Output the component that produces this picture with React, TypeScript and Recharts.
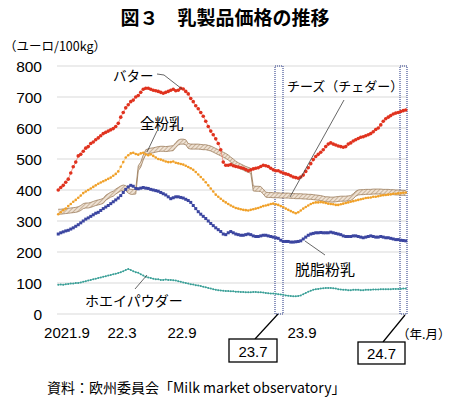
import { ComposedChart, Line, Area, XAxis, YAxis, CartesianGrid, ReferenceArea } from 'recharts'

// weekly-ish readings, 4 per month, 2021.9 - 2024.7 (EUR/100kg)
const butter = [
  400, 408, 415, 425, 435, 455, 475, 490, 510, 515, 525, 535, 540, 550, 555, 562,
  568, 575, 582, 586, 590, 594, 598, 605, 615, 635, 650, 665, 675, 685, 690, 700,
  705, 715, 725, 728, 728, 725, 722, 720, 718, 715, 712, 715, 718, 722, 725, 720,
  722, 728, 726, 718, 710, 695, 685, 672, 662, 650, 638, 622, 605, 590, 578, 565,
  550, 530, 490, 480, 480, 482, 478, 476, 474, 472, 470, 466, 462, 465, 468, 470,
  472, 476, 480, 478, 476, 470, 465, 462, 462, 458, 455, 452, 450, 446, 442, 440,
  438, 442, 448, 460, 472, 485, 498, 508, 515, 522, 530, 540, 548, 552, 548, 545,
  542, 540, 538, 540, 548, 552, 558, 562, 566, 570, 572, 575, 578, 582, 588, 595,
  600, 610, 622, 630, 635, 640, 645, 648, 650, 653, 656, 658,
]
const wmp = [
  322, 328, 335, 340, 348, 355, 362, 368, 375, 382, 390, 395, 400, 405, 410, 415,
  420, 424, 428, 432, 436, 440, 446, 452, 460, 475, 490, 505, 512, 518, 520, 516,
  514, 518, 520, 515, 512, 515, 510, 505, 500, 498, 495, 492, 490, 490, 492, 488,
  486, 484, 482, 478, 474, 470, 465, 458, 450, 442, 434, 425, 415, 405, 395, 385,
  378, 372, 365, 360, 355, 350, 346, 342, 340, 338, 336, 335, 334, 336, 338, 340,
  342, 345, 348, 350, 352, 355, 356, 354, 352, 348, 345, 340, 336, 332, 328, 325,
  328, 334, 340, 345, 350, 355, 358, 360, 360, 361, 360, 358, 356, 355, 354, 352,
  352, 354, 356, 358, 360, 362, 364, 366, 368, 370, 372, 374, 375, 376, 378, 378,
  380, 382, 383, 384, 385, 386, 388, 388, 389, 390, 391, 392,
]
const smp = [
  258, 262, 265, 268, 270, 274, 278, 283, 288, 294, 300, 306, 310, 315, 320, 325,
  328, 334, 340, 345, 350, 356, 362, 368, 374, 382, 392, 402, 410, 415, 412, 405,
  404, 406, 408, 406, 405, 402, 400, 398, 396, 392, 388, 384, 378, 372, 375, 378,
  378, 376, 374, 370, 366, 360, 350, 340, 330, 322, 315, 308, 300, 292, 285, 278,
  272, 266, 258, 256, 262, 266, 262, 258, 256, 254, 254, 256, 258, 256, 252, 250,
  250, 252, 254, 254, 252, 250, 248, 246, 244, 238, 234, 234, 234, 232, 232, 233,
  234, 236, 242, 248, 254, 258, 260, 262, 262, 263, 262, 262, 262, 264, 262, 260,
  258, 256, 252, 250, 250, 250, 252, 252, 250, 248, 246, 248, 250, 252, 250, 248,
  248, 250, 248, 246, 246, 244, 242, 240, 240, 238, 237, 236,
]
const whey = [
  94, 95, 94, 96, 97, 98, 98, 100, 100, 102, 104, 106, 108, 110, 112, 114,
  116, 118, 120, 122, 124, 126, 128, 130, 132, 135, 138, 142, 145, 142, 138, 135,
  133, 128, 124, 120, 118, 116, 114, 112, 112, 110, 110, 111, 110, 110, 109, 108,
  106, 104, 102, 100, 98, 96, 95, 93, 92, 90, 88, 86, 84, 82, 80, 78,
  77, 76, 75, 74, 74, 73, 73, 72, 72, 71, 71, 70, 70, 70, 71, 71,
  70, 70, 69, 68, 67, 66, 66, 65, 64, 63, 62, 60, 59, 58, 57, 57,
  58, 60, 64, 68, 72, 75, 78, 80, 81, 82, 83, 84, 84, 84, 83, 82,
  80, 79, 78, 78, 77, 77, 78, 78, 78, 77, 77, 78, 78, 78, 79, 79,
  79, 80, 80, 80, 80, 80, 81, 81, 81, 81, 82, 82,
]
const cheddar = [
  330, 330, 331, 332, 333, 334, 335, 336, 338, 342, 348, 350, 350, 352, 355, 358,
  360, 362, 365, 375, 380, 385, 388, 395, 400, 405, 408, 406, 398, 394, 394, 395,
  470, 482, 505, 522, 525, 527, 528, 530, 532, 533, 533, 532, 533, 534, 535, 545,
  553, 556, 556, 554, 542, 540, 540, 540, 540, 539, 538, 538, 536, 534, 530, 526,
  522, 518, 514, 510, 505, 498, 492, 485, 480, 476, 472, 468, 465, 462, 405, 404,
  404, 403, 395, 385, 384, 384, 383, 383, 383, 382, 382, 382, 382, 381, 381, 380,
  380, 380, 379, 379, 378, 378, 377, 376, 375, 374, 372, 370, 370, 369, 369, 370,
  371, 372, 372, 372, 373, 374, 380, 388, 392, 393, 393, 394, 394, 394, 395, 395,
  395, 395, 394, 394, 394, 393, 393, 392, 392, 391, 391, 390,
]

const tickLabels = ['2021.9', '22.3', '22.9', '23.9']
const tickPos = [3.5, 25.5, 49.5, 97.5]
const yTicks = [0, 100, 200, 300, 400, 500, 600, 700, 800]

const data = butter.map((b, i) => ({
  i,
  butter: b,
  wmp: wmp[i],
  smp: smp[i],
  whey: whey[i],
  cheddar: [cheddar[i] - 8, cheddar[i] + 8],
}))

const JP = '"Noto Sans CJK JP", sans-serif'
const NUM = '"Liberation Sans", Arial, sans-serif'

const SquareDot = (props: any) => {
  const { cx, cy, index } = props
  if (cx == null || cy == null) return <g key={index} />
  return <rect key={index} x={cx - 1.5} y={cy - 1.5} width={3} height={3} fill="#3b45a0" />
}

export default function App() {
  return (
    <div style={{ position: 'absolute', left: 0, top: 0, width: 450, height: 399, background: '#fff' }}>
      <ComposedChart width={450} height={399} data={data} margin={{ top: 66, right: 43, bottom: 55, left: 0 }}>
        <defs>
          <pattern id="hatch" width="3" height="3" patternUnits="userSpaceOnUse" patternTransform="rotate(45)">
            <rect width="3" height="3" fill="#efe2d4" />
            <line x1="0" y1="0" x2="0" y2="3" stroke="#a0805f" strokeWidth="1" />
          </pattern>
        </defs>
        <CartesianGrid vertical={false} stroke="#d9d9d9" />
        <XAxis
          dataKey="i"
          type="number"
          domain={[-0.5, 139.5]}
          ticks={tickPos}
          tickFormatter={(v) => tickLabels[tickPos.indexOf(v)]}
          axisLine={false}
          tickLine={false}
          tickSize={0}
          tickMargin={13}
          height={30}
          tick={{ fill: '#000', fontSize: 15, fontFamily: NUM }}
        />
        <YAxis
          domain={[0, 800]}
          ticks={yTicks}
          axisLine={false}
          tickLine={false}
          tickSize={0}
          tickMargin={15}
          width={57}
          tick={{ fill: '#000', fontSize: 15.5, fontFamily: NUM }}
        />
        <ReferenceArea x1={86.7} x2={89.9} y1={0} y2={800} fill="none" stroke="#6a76aa" strokeDasharray="1 1" strokeWidth={1.5} />
        <ReferenceArea x1={136.7} x2={139.5} y1={0} y2={800} fill="none" stroke="#6a76aa" strokeDasharray="1 1" strokeWidth={1.5} />
        <Area dataKey="cheddar" type="linear" fill="url(#hatch)" stroke="#9c7c5c" strokeWidth={0.8} fillOpacity={1} isAnimationActive={false} />
        <Line dataKey="whey" type="linear" stroke="#45aaa2" strokeWidth={0.8} dot={{ r: 1, fill: '#3a9e96', stroke: 'none' }} isAnimationActive={false} />
        <Line dataKey="smp" type="linear" stroke="#5a64b4" strokeWidth={1} dot={SquareDot} isAnimationActive={false} />
        <Line dataKey="wmp" type="linear" stroke="#f4c070" strokeWidth={0.7} dot={{ r: 1.3, fill: '#f0a028', stroke: 'none' }} isAnimationActive={false} />
        <Line dataKey="butter" type="linear" stroke="#f08070" strokeWidth={0.8} dot={{ r: 1.8, fill: '#e0321e', stroke: 'none' }} isAnimationActive={false} />
      </ComposedChart>

      {/* annotations */}
      <svg width={450} height={399} style={{ position: 'absolute', left: 0, top: 0, pointerEvents: 'none' }}>
        <text x={225} y={16} textAnchor="middle" dominantBaseline="central" fontFamily={JP} fontWeight={700} fontSize={19}>
          図３　乳製品価格の推移
        </text>
        <text x={4} y={45} dominantBaseline="central" fontFamily={JP} fontSize={12.5}>（ユーロ/100kg）</text>

        <text x={113} y={75} dominantBaseline="central" fontFamily={JP} fontSize={13.5}>バター</text>
        <polyline points="157,74 164,75 182,89" fill="none" stroke="#404040" strokeWidth={0.8} />
        <text x={140} y={122} dominantBaseline="central" fontFamily={JP} fontSize={14.5}>全粉乳</text>
        <line x1={157} y1={131} x2={147} y2={152} stroke="#404040" strokeWidth={0.8} />
        <text x={287} y={85} dominantBaseline="central" fontFamily={JP} fontSize={13}>チーズ（チェダー）</text>
        <line x1={344} y1={100} x2={290} y2={197} stroke="#404040" strokeWidth={0.8} />
        <text x={295} y={268} dominantBaseline="central" fontFamily={JP} fontSize={15}>脱脂粉乳</text>
        <line x1={325} y1={255} x2={305} y2={241} stroke="#404040" strokeWidth={0.8} />
        <text x={85} y={300} dominantBaseline="central" fontFamily={JP} fontSize={14}>ホエイパウダー</text>
        <line x1={135} y1={289} x2={147} y2={275} stroke="#404040" strokeWidth={0.8} />

        <text x={397} y={333} dominantBaseline="central" fontFamily={JP} fontSize={12.5}>（年.月）</text>

        <line x1={255} y1={339} x2={278} y2={314} stroke="#000" strokeWidth={1.2} />
        <rect x={229} y={339} width={48} height={23} fill="#fff" stroke="#000" strokeWidth={1.3} />
        <text x={253} y={351} textAnchor="middle" dominantBaseline="central" fontFamily={NUM} fontSize={15}>23.7</text>
        <line x1={383} y1={342} x2={405} y2={315} stroke="#000" strokeWidth={1.2} />
        <rect x={358} y={342} width={47} height={22} fill="#fff" stroke="#000" strokeWidth={1.3} />
        <text x={381.5} y={353.5} textAnchor="middle" dominantBaseline="central" fontFamily={NUM} fontSize={15}>24.7</text>

        <text x={47} y={387} dominantBaseline="central" fontFamily={JP} fontSize={14}>資料：欧州委員会「Milk market observatory」</text>
      </svg>
    </div>
  )
}
